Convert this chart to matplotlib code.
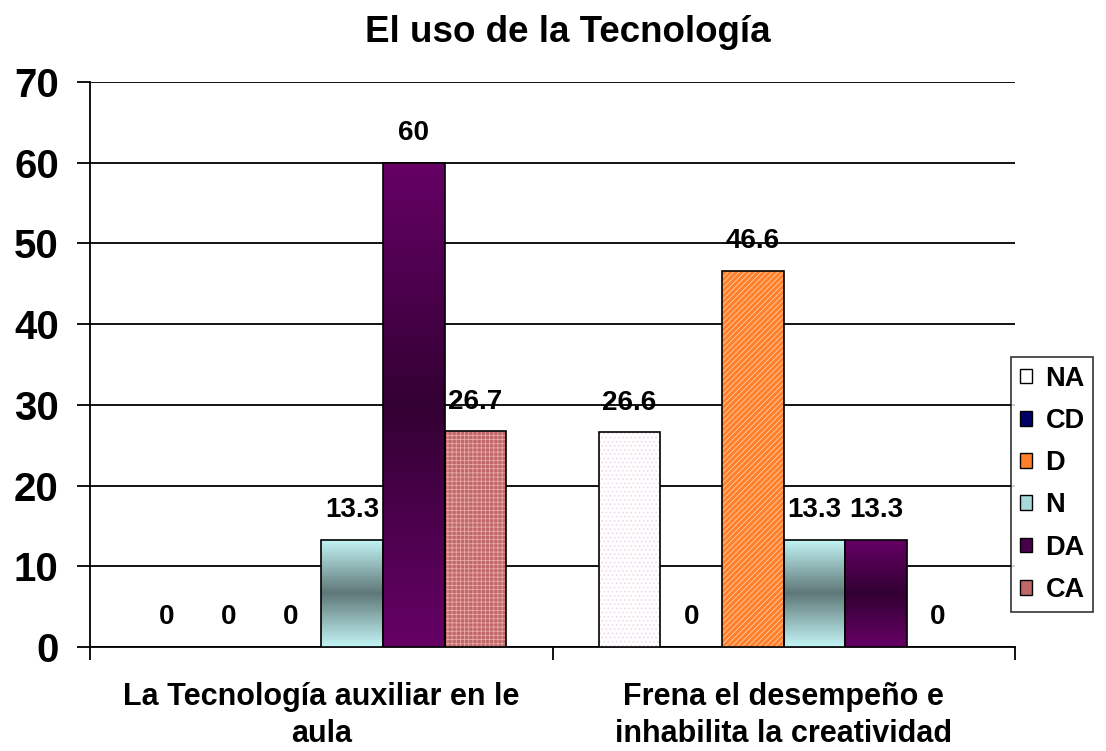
import numpy as np
import matplotlib
matplotlib.use("Agg")
import matplotlib.pyplot as plt
from matplotlib.patches import Patch
from matplotlib.colors import LinearSegmentedColormap

plt.rcParams['font.family'] = ['Liberation Sans', 'DejaVu Sans']
plt.rcParams['font.weight'] = 'bold'
plt.rcParams['hatch.linewidth'] = 0.6

title = "El uso de la Tecnología"
categories = ["La Tecnología auxiliar en le\naula",
              "Frena el desempeño e\ninhabilita la creatividad"]
series = ["NA", "CD", "D", "N", "DA", "CA"]
values = {
    "NA": [0, 26.6],
    "CD": [0, 0],
    "D": [0, 46.6],
    "N": [13.3, 13.3],
    "DA": [60, 13.3],
    "CA": [26.7, 0],
}
labels = {
    "NA": ["0", "26.6"],
    "CD": ["0", "0"],
    "D": ["0", "46.6"],
    "N": ["13.3", "13.3"],
    "DA": ["60", "13.3"],
    "CA": ["26.7", "0"],
}
yticks = [0, 10, 20, 30, 40, 50, 60, 70]

styles = {
    "NA": dict(face="#ffffff", hatch="....", hcolor="#ecd4ec"),
    "CD": dict(face="#000066", hatch=None, hcolor=None),
    "D": dict(face="#ff7f2a", hatch="//////", hcolor="#ffd0a8"),
    "N": dict(face="#a8d8d8", grad=["#c4f6f6", "#5f7878", "#c4f6f6"]),
    "DA": dict(face="#4a004a", grad=["#660066", "#330033", "#660066"]),
    "CA": dict(face="#c06868", hatch="++++", hcolor="#e8a8a8"),
}

fig = plt.figure(figsize=(11.06, 7.51), dpi=100)
ax = fig.add_axes([90/1106, 1-647/751, 925/1106, 565/751])

x = np.arange(len(categories))
n = len(series)
w = 0.8 / n
grad_img = np.linspace(0, 1, 256).reshape(-1, 1)

for i, s in enumerate(series):
    st = styles[s]
    pos = x + (i - (n - 1) / 2) * w
    if "grad" in st:
        bars = ax.bar(pos, values[s], w, color="none", edgecolor="black", lw=1.2, zorder=4)
        cmap = LinearSegmentedColormap.from_list(s, st["grad"])
        for b in bars:
            if b.get_height() <= 0:
                continue
            im = ax.imshow(grad_img, extent=[b.get_x(), b.get_x() + b.get_width(), 0, b.get_height()],
                           aspect="auto", cmap=cmap, zorder=3, origin="lower")
            im.set_clip_path(b)
    else:
        ax.bar(pos, values[s], w, color=st["face"], hatch=st["hatch"],
               edgecolor=st["hcolor"] if st["hatch"] else st["face"], lw=0, zorder=3)
        ax.bar(pos, values[s], w, fill=False, edgecolor="black", lw=1.2, zorder=4)
    for xi, v, lab in zip(pos, values[s], labels[s]):
        ax.annotate(lab, (xi, v), xytext=(0, 12), textcoords="offset points",
                    ha="center", va="bottom", fontsize=20, fontweight="bold", zorder=5)

ax.set_xlim(-0.5, len(categories) - 0.5)
ax.set_ylim(0, 70)
ax.set_yticks(yticks)
ax.set_yticklabels([str(t) for t in yticks], fontsize=29, fontweight="bold")
ax.yaxis.grid(True, color="black", lw=1.3)
ax.set_axisbelow(True)
ax.tick_params(axis="y", direction="out", length=9.5, width=1.3, pad=13)

ax.set_xticks(np.arange(len(categories) + 1) - 0.5)
ax.set_xticklabels([])
ax.set_xticks(x, minor=True)
ax.set_xticklabels(categories, minor=True, fontsize=22, fontweight="bold", linespacing=1.32)
ax.tick_params(axis="x", which="major", direction="out", length=9.5, width=1.3)
ax.tick_params(axis="x", which="minor", length=0, pad=25)

for sp in ["top", "right"]:
    ax.spines[sp].set_visible(False)
ax.spines["left"].set_linewidth(1.3)
ax.spines["bottom"].set_linewidth(1.3)

fig.text(568/1106, 1 - 33/751, title, ha="center", va="center", fontsize=26.5, fontweight="bold")

handles = [Patch(facecolor=styles[s]["face"], edgecolor="black", lw=1) for s in series]
leg = fig.legend(handles, series, loc="upper left",
                 bbox_to_anchor=(1011/1106, 1 - 357/751),
                 prop=dict(weight="bold", size=19.5),
                 frameon=True, fancybox=False, edgecolor="black",
                 labelspacing=0.6, handlelength=0.45, handleheight=0.45,
                 handletextpad=0.5, borderpad=0.32, borderaxespad=0)
leg.get_frame().set_linewidth(1.2)

fig.savefig("out.png", dpi=100)
